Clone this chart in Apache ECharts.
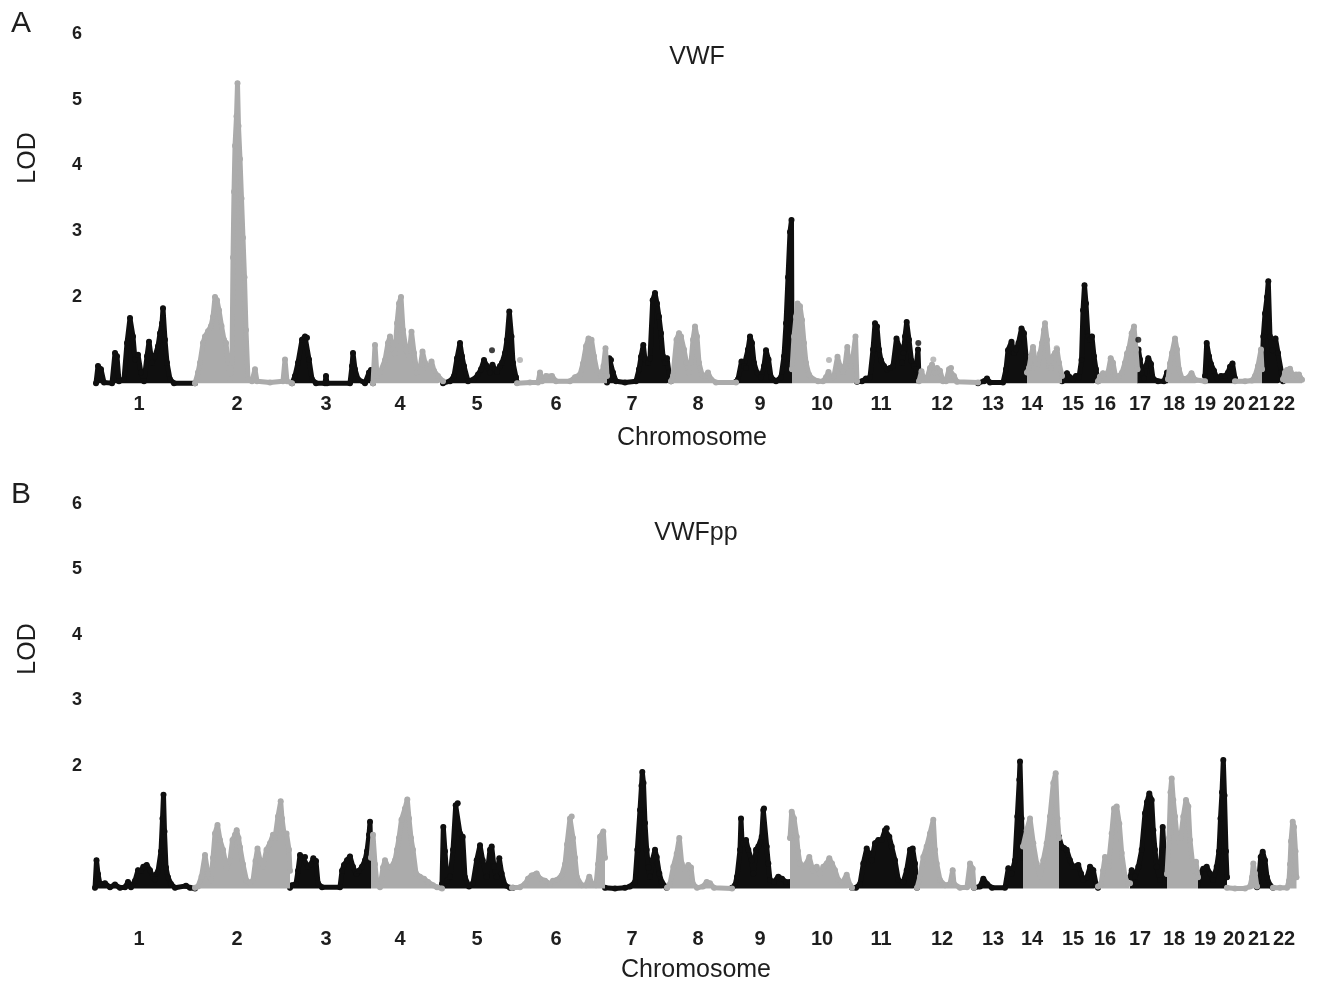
<!DOCTYPE html>
<html>
<head>
<meta charset="utf-8">
<script src="https://cdn.jsdelivr.net/npm/echarts/dist/echarts.min.js"></script>
<style>
html,body{margin:0;padding:0;background:#fff;}
#chart{width:1318px;height:985px;}
</style>
</head>
<body>
<div id="chart"></div>
<script>
// ---- tick labels / categories ----
const CHROM_NAMES = ['1','2','3','4','5','6','7','8','9','10','11','12','13','14','15','16','17','18','19','20','21','22'];
// chromosome label positions on the map axis (map units)
const LABEL_POS = [139,237,326,400,477,556,632,698,760,822,881,942,993,1032,1073,1105,1140,1174,1205,1234,1259,1284];
const LOD_TICKS = [2,3,4,5,6];
const BASE_A = 0.69;   // baseline level of panel A points on its LOD scale
const BASE_B = 0.13;   // baseline level of panel B points

// ---- Panel A: VWF, per chromosome [map position, LOD] ----
const VWF_1 = [[96,0.69],[98,0.95],[101,0.9],[104,0.7],[112,0.69],[115,1.15],[117,1.1],[119,0.72],[124,0.75],[127,1.3],[130,1.68],[133,1.4],[135,1.05],[138,1.12],[141,0.85],[144,0.72],[147,1.1],[149,1.32],[152,1.0],[155,1.1],[158,1.25],[160,1.45],[162,1.6],[163,1.83],[165,1.35],[167,1.0],[170,0.75],[174,0.69],[195,0.69]];
const VWF_2 = [[195,0.69],[198,0.85],[200,1.0],[203,1.3],[205,1.4],[208,1.48],[211,1.56],[213,1.7],[215,2.0],[217,1.95],[219,1.8],[221.5,1.56],[224,1.35],[226,1.3],[228,1.0],[230,0.75],[232,1.0],[233,2.6],[234,3.6],[235,4.3],[236.5,4.75],[237.5,5.25],[238.5,4.6],[240,4.1],[241.5,3.5],[243,2.9],[244.5,2.3],[246,1.5],[248,0.75],[252,0.72],[255,0.9],[257,0.72],[270,0.7],[283,0.72],[285,1.05],[287,0.72],[292,0.69]];
const VWF_3 = [[292,0.69],[295,0.8],[298,1.0],[302,1.35],[305,1.4],[307,1.38],[309,1.05],[312,0.75],[316,0.69],[325,0.69],[326,0.8],[327,0.69],[350,0.69],[352,0.95],[353,1.15],[355,0.9],[358,0.75],[365,0.69],[369,0.85],[371,0.89],[373,0.69]];
const VWF_4 = [[373,0.69],[375,1.27],[377,0.8],[380,0.85],[385,1.04],[388,1.3],[390,1.4],[393,1.2],[395,1.14],[397,1.6],[399,1.9],[401,2.0],[403,1.5],[406,1.2],[409,1.1],[411.5,1.47],[414,1.15],[417,0.85],[420,0.9],[422.5,1.17],[425,1.0],[428,0.9],[431.5,1.02],[434,0.88],[438,0.8],[443,0.72]];
const VWF_5 = [[443,0.69],[450,0.72],[454,0.8],[457,1.07],[460,1.3],[462,1.1],[464,0.95],[468,0.72],[474,0.75],[478,0.82],[481,0.9],[484,1.04],[487,0.95],[490,0.85],[492.5,0.97],[495,0.9],[497,0.86],[500,0.95],[502,1.0],[505,1.15],[507,1.35],[509.3,1.78],[511.5,1.4],[513,1.0],[516,0.78],[517,0.7]];
const VWF_6 = [[517,0.69],[530,0.7],[538,0.7],[540,0.85],[542,0.72],[546,0.8],[552,0.8],[556,0.72],[570,0.72],[575,0.78],[580,0.82],[583,0.99],[586,1.25],[588.5,1.37],[591.5,1.35],[594,1.1],[597,0.87],[601,0.8],[603.5,0.95],[605.5,1.22],[607,0.8]];
const VWF_7 = [[607,0.7],[609.3,1.07],[611,1.04],[613,0.85],[616,0.72],[625,0.7],[636,0.72],[639,0.9],[641,1.09],[643.3,1.27],[645,1.05],[648,1.0],[650,1.07],[652.7,1.95],[655,2.06],[657,1.9],[659,1.7],[661,1.45],[663,1.1],[665,1.0],[667,1.07],[669,0.85],[671,0.72]];
const VWF_8 = [[671,0.72],[673,0.8],[676.5,1.35],[679,1.45],[681,1.4],[684,1.2],[686.5,1.0],[689,0.85],[691,1.0],[693,1.35],[695,1.55],[697,1.4],[699,1.0],[702,0.82],[705,0.8],[708,0.85],[711,0.75],[716,0.7],[736,0.7]];
const VWF_9 = [[736,0.71],[738,0.75],[741.5,1.02],[744,0.95],[746,0.92],[748,1.2],[750,1.4],[752,1.3],[754,1.0],[757,0.85],[761,0.78],[764,0.95],[766,1.19],[768.5,1.05],[771,0.78],[776,0.72],[781,0.78],[784,1.1],[786,1.6],[788,2.3],[790,2.99],[791.5,3.17],[792,1.0]];
const VWF_10 = [[792,0.9],[794,1.4],[796,1.7],[797.5,1.9],[800,1.86],[802,1.65],[804,1.3],[806,1.0],[809,0.82],[813,0.75],[818,0.72],[823,0.72],[826,0.78],[828.5,0.86],[831,0.76],[834,0.8],[837.5,1.09],[840,0.95],[843,0.86],[845,0.95],[847.3,1.24],[849,0.9],[851,0.95],[853,1.1],[855.5,1.4],[857,0.72]];
const VWF_11 = [[857,0.71],[862,0.72],[866,0.76],[870,0.78],[873,1.2],[875,1.6],[877,1.55],[879,1.2],[881,1.04],[884,0.95],[887,0.9],[890,0.92],[893,0.95],[896.5,1.37],[899,1.25],[902,1.0],[903.5,1.15],[905,1.4],[906.7,1.62],[909,1.35],[911.5,1.03],[914,0.95],[916,0.9],[918,1.2],[919,0.75]];
const VWF_12 = [[919,0.72],[921.5,0.87],[924,0.75],[927,0.76],[930,0.92],[932,0.97],[935,0.85],[937,0.92],[940,0.88],[943,0.72],[946,0.72],[949,0.9],[951,0.92],[954,0.8],[957,0.71],[978,0.7]];
const VWF_13 = [[978,0.69],[984,0.72],[987,0.76],[990,0.7],[1003,0.7],[1006,0.9],[1008,1.19],[1011.5,1.32],[1014,1.15],[1016,1.2],[1018.5,1.3],[1021.5,1.52],[1024,1.45],[1026,1.1],[1027,0.8]];
const VWF_14 = [[1027,0.85],[1029,0.92],[1031,1.1],[1033,1.24],[1035,1.05],[1037,0.9],[1040,1.14],[1042,1.3],[1044,1.5],[1045,1.6],[1047,1.35],[1049,0.95],[1051,0.92],[1053,1.1],[1055,1.15],[1057,1.2],[1059,1.0],[1062,0.8]];
const VWF_15 = [[1062,0.72],[1064,0.8],[1067,0.84],[1070,0.78],[1073,0.75],[1076,0.8],[1079,0.78],[1081.5,1.04],[1083,1.8],[1084.5,2.18],[1086,1.9],[1088,1.4],[1090,1.35],[1092,1.4],[1094,1.1],[1096,0.9],[1098,0.72]];
const VWF_16 = [[1098,0.72],[1100,0.79],[1103,0.84],[1106,0.75],[1108,0.85],[1110.7,1.07],[1113,1.0],[1116,0.75],[1119,0.8],[1122,0.85],[1125,1.0],[1127,1.14],[1129,1.22],[1131.7,1.45],[1134,1.55],[1136,1.2],[1137.5,0.9]];
const VWF_17 = [[1137,0.9],[1138.5,1.2],[1140,1.05],[1142,0.85],[1144,0.76],[1146,0.95],[1148.3,1.07],[1151,0.98],[1153,0.76],[1158,0.72],[1164,0.72],[1167,0.85],[1168,0.75]];
const VWF_18 = [[1168,0.75],[1170,0.99],[1172,1.15],[1175,1.37],[1177,1.2],[1179,0.9],[1182,0.76],[1187,0.76],[1191.5,0.84],[1195,0.74],[1205,0.72]];
const VWF_19 = [[1205,0.8],[1206.7,1.3],[1209,1.1],[1211,0.98],[1214,0.88],[1217,0.76],[1221,0.8],[1225,0.8],[1228,0.85],[1230,0.94],[1232.5,0.99],[1235,0.76]];
const VWF_20 = [[1235,0.72],[1245,0.72],[1252,0.73],[1255,0.8],[1258,0.95],[1261,1.2],[1262,0.9]];
const VWF_21 = [[1262,0.85],[1263.3,1.4],[1265,1.75],[1267,2.0],[1268.3,2.24],[1270,1.4],[1272.5,1.19],[1275.5,1.37],[1278,1.15],[1281.5,0.85],[1283,0.72]];
const VWF_22 = [[1283,0.75],[1285,0.85],[1287,0.89],[1290,0.91],[1293,0.8],[1296,0.82],[1299,0.82],[1302,0.74]];
const VWF_DOTS_BLACK = [[492,1.19],[918.3,1.30],[1138.3,1.35]];
const VWF_DOTS_GRAY = [[520,1.04],[829,1.04],[933.3,1.05],[1056.7,1.22]];

// ---- Panel B: VWFpp, per chromosome [map position, LOD] ----
const PP_1 = [[95,0.14],[96.5,0.56],[98,0.35],[100,0.2],[105,0.21],[110,0.15],[115,0.19],[120,0.14],[125,0.15],[128,0.23],[131,0.15],[135,0.25],[138,0.41],[141,0.4],[143.3,0.46],[146.7,0.49],[150,0.41],[153,0.3],[155,0.27],[158,0.39],[161,0.7],[162.5,1.2],[163.5,1.56],[164.5,1.0],[166,0.45],[168,0.3],[171,0.2],[175,0.14],[186,0.17],[190,0.14],[195,0.13]];
const PP_2 = [[195,0.14],[198,0.16],[201.5,0.31],[205,0.64],[208,0.35],[211,0.25],[213,0.6],[215,0.97],[217.5,1.1],[220,0.87],[223,0.72],[226.5,0.45],[230,0.56],[232.5,0.87],[235,0.95],[236.7,1.02],[238.5,0.9],[240,0.76],[243,0.5],[246.5,0.25],[250,0.22],[253,0.25],[255.5,0.55],[257.5,0.74],[260,0.56],[263,0.46],[266.5,0.72],[270,0.82],[273,0.95],[275,0.9],[278,1.23],[280.7,1.46],[282,1.2],[284,0.97],[286.5,0.97],[289,0.72],[290,0.4]];
const PP_3 = [[290,0.14],[292,0.18],[296,0.2],[298,0.4],[300,0.64],[303,0.6],[305,0.61],[308,0.46],[311,0.5],[313.3,0.59],[316,0.55],[318,0.21],[322,0.15],[340,0.15],[342,0.4],[344,0.49],[347,0.56],[350,0.62],[353,0.46],[356.5,0.35],[359,0.4],[362,0.46],[365,0.56],[367,0.7],[369,0.95],[370,1.15],[371,0.5]];
const PP_4 = [[371,0.6],[373,0.95],[375,0.5],[377,0.2],[380,0.15],[383,0.45],[385,0.56],[388,0.46],[391,0.45],[393,0.46],[395,0.56],[397,0.72],[399,0.9],[401.5,1.18],[405,1.35],[407.3,1.49],[409,1.2],[411,0.9],[413,0.72],[416,0.36],[420,0.31],[424,0.28],[428,0.23],[433,0.18],[437,0.15],[442,0.13]];
const PP_5 = [[442,0.2],[443.3,1.07],[445,0.7],[447,0.25],[450,0.31],[453,0.72],[455.7,1.4],[457.7,1.43],[460,0.97],[462.7,0.92],[465,0.3],[469,0.16],[473,0.21],[476.7,0.56],[480,0.79],[482.7,0.56],[486.7,0.31],[490,0.72],[491.7,0.77],[494,0.46],[496.7,0.31],[499.3,0.59],[501.7,0.36],[505,0.18],[510,0.14],[513,0.14]];
const PP_6 = [[512,0.14],[520,0.15],[525,0.2],[528,0.28],[531.7,0.33],[536.7,0.36],[540,0.28],[545,0.25],[550,0.2],[553,0.25],[556.7,0.26],[561.7,0.33],[565,0.5],[567,0.8],[570,1.2],[571.7,1.23],[573,0.9],[575,0.6],[577,0.3],[581.7,0.18],[586,0.18],[589.3,0.31],[592,0.2],[596,0.18],[598,0.5],[600,0.92],[603.3,1.0],[605,0.6]];
const PP_7 = [[605,0.14],[615,0.13],[625,0.14],[630,0.16],[635,0.23],[637.3,0.72],[640,1.33],[641.5,1.7],[642.3,1.91],[643.5,1.74],[645,1.13],[646.7,0.72],[648.5,0.45],[650,0.31],[652.3,0.56],[655,0.72],[656.7,0.61],[659.3,0.36],[661.7,0.23],[666.7,0.14]];
const PP_8 = [[667,0.14],[670,0.2],[673.3,0.46],[676.7,0.66],[679.3,0.9],[681.7,0.51],[685,0.41],[688.3,0.49],[691,0.45],[693,0.2],[697,0.14],[703,0.16],[706.7,0.23],[710,0.21],[714,0.14],[732,0.13]];
const PP_9 = [[732,0.14],[735,0.18],[737,0.31],[740,0.72],[741,1.2],[742,0.85],[743.3,0.82],[746,0.87],[748.3,0.72],[751.7,0.56],[753.3,0.36],[756,0.72],[758.3,0.77],[761.7,0.92],[763.3,1.33],[764,1.35],[766.7,0.77],[768.3,0.51],[770,0.26],[774,0.23],[778.3,0.31],[782,0.28],[786,0.23],[790,0.23]];
const PP_10 = [[790,0.9],[791.7,1.3],[794,1.2],[796.7,0.92],[798,0.7],[800,0.51],[804,0.46],[806,0.5],[809.3,0.61],[812.7,0.41],[816.7,0.46],[820,0.36],[823.3,0.46],[826.7,0.51],[829.3,0.59],[832,0.51],[835,0.41],[838.3,0.26],[842,0.21],[846.7,0.34],[850,0.18],[852,0.14]];
const PP_11 = [[852,0.14],[856,0.14],[860,0.2],[863.3,0.51],[866.7,0.74],[868.5,0.67],[871.7,0.56],[875,0.82],[878.3,0.87],[881.7,0.87],[885,1.02],[886.7,1.05],[889.3,0.92],[891.7,0.77],[895,0.56],[898.3,0.26],[903.3,0.23],[906.7,0.41],[910,0.72],[912.7,0.74],[915,0.51],[917,0.14]];
const PP_12 = [[917,0.14],[920,0.31],[923.3,0.61],[926.7,0.77],[930,0.97],[933.3,1.18],[935,0.72],[936.7,0.51],[940,0.26],[945,0.18],[950,0.2],[952.7,0.41],[954,0.2],[960,0.14],[967,0.15],[970,0.51],[972.7,0.43],[974,0.14]];
const PP_13 = [[974,0.14],[980,0.16],[983.3,0.28],[987,0.2],[992,0.14],[1005,0.14],[1008.3,0.44],[1011.7,0.36],[1015,0.56],[1017.3,1.23],[1019.3,1.79],[1020,2.07],[1021.5,1.2],[1023,0.6]];
const PP_14 = [[1023,0.77],[1026.7,1.02],[1030,1.2],[1033.3,0.82],[1036.7,0.51],[1040,0.31],[1043.3,0.56],[1046.7,0.82],[1050,1.23],[1053.3,1.74],[1055.7,1.89],[1057.5,1.2],[1059,0.9]];
const PP_15 = [[1059,0.92],[1061.7,0.77],[1064,0.75],[1066.7,0.72],[1070,0.56],[1073,0.46],[1075,0.46],[1078.3,0.49],[1081,0.36],[1083.3,0.26],[1087,0.3],[1090,0.46],[1093.3,0.41],[1096,0.2],[1098,0.14]];
const PP_16 = [[1098,0.16],[1101,0.2],[1103,0.4],[1105,0.61],[1108.3,0.46],[1111.7,0.97],[1114,1.35],[1116.7,1.38],[1119.3,1.12],[1121.7,0.67],[1125,0.31],[1128,0.2],[1130,0.21]];
const PP_17 = [[1130,0.3],[1131.7,0.41],[1135,0.31],[1138.3,0.46],[1141.7,0.72],[1145,1.28],[1147,1.45],[1149.3,1.58],[1151.7,1.48],[1153.3,1.02],[1155,0.72],[1156.7,0.46],[1160,0.26],[1162.7,1.07],[1164,0.72],[1165.5,0.4],[1167,0.3]];
const PP_18 = [[1167,0.35],[1169,0.9],[1170.5,1.6],[1171.7,1.81],[1173.3,1.48],[1175,1.23],[1176.7,0.97],[1180,0.82],[1183.3,1.23],[1186,1.48],[1188.3,1.38],[1190,0.87],[1193.3,0.41],[1196,0.54],[1198,0.3]];
const PP_19 = [[1198,0.2],[1200,0.36],[1203.3,0.43],[1206.7,0.46],[1210,0.36],[1213,0.26],[1216.7,0.46],[1219,0.7],[1220.5,1.2],[1222,1.6],[1223.3,2.09],[1224.5,1.55],[1226,0.7],[1227,0.3]];
const PP_20 = [[1227,0.14],[1235,0.13],[1245,0.13],[1250,0.16],[1252,0.3],[1253.3,0.51],[1255,0.36],[1257,0.16]];
const PP_21 = [[1257,0.15],[1259,0.3],[1260.7,0.61],[1262.7,0.69],[1265,0.56],[1267,0.3],[1270,0.18],[1273,0.14]];
const PP_22 = [[1273,0.14],[1280,0.14],[1287,0.14],[1289,0.25],[1290,0.5],[1291,0.85],[1292.7,1.15],[1294,1.07],[1295.5,0.7],[1296.5,0.3]];

const VWF_CHROMS = [VWF_1,VWF_2,VWF_3,VWF_4,VWF_5,VWF_6,VWF_7,VWF_8,VWF_9,VWF_10,VWF_11,VWF_12,VWF_13,VWF_14,VWF_15,VWF_16,VWF_17,VWF_18,VWF_19,VWF_20,VWF_21,VWF_22];
const PP_CHROMS = [PP_1,PP_2,PP_3,PP_4,PP_5,PP_6,PP_7,PP_8,PP_9,PP_10,PP_11,PP_12,PP_13,PP_14,PP_15,PP_16,PP_17,PP_18,PP_19,PP_20,PP_21,PP_22];

// ---- styling ----
const BLACK = '#0f0f0f';
const GRAY = '#ababab';
const TXT = '#1e1e1e';
const FONT = '"Liberation Sans", Arial, Helvetica, sans-serif';

function chromSeries(chroms, idx, base) {
  return chroms.map((d, i) => {
    const c = i % 2 === 0 ? BLACK : GRAY;
    return {
      type: 'line', xAxisIndex: idx, yAxisIndex: idx, data: d,
      symbol: 'circle', symbolSize: 6, showSymbol: true, showAllSymbol: true,
      lineStyle: { width: 5, color: c, join: 'round', cap: 'round' },
      itemStyle: { color: c },
      areaStyle: { color: c, opacity: 1, origin: base },
      silent: true, animation: false, z: 2 + (i % 2)
    };
  });
}
function dotSeries(data, idx, c) {
  return { type: 'scatter', xAxisIndex: idx, yAxisIndex: idx, data: data,
    symbol: 'circle', symbolSize: 6, itemStyle: { color: c }, silent: true, animation: false, z: 4 };
}
function xAxisCfg(idx, margin) {
  return {
    type: 'value', gridIndex: idx, min: 90, max: 1310,
    axisLine: { show: false }, axisTick: { show: false }, splitLine: { show: false },
    axisLabel: {
      customValues: LABEL_POS, margin: margin,
      formatter: function (v) { const i = LABEL_POS.indexOf(v); return i >= 0 ? CHROM_NAMES[i] : ''; },
      fontFamily: FONT, fontSize: 20, fontWeight: 'bold', color: TXT
    }
  };
}
function yAxisCfg(idx) {
  return {
    type: 'value', gridIndex: idx, min: 0, max: 6, interval: 1,
    axisLine: { show: false }, axisTick: { show: false }, splitLine: { show: false },
    axisLabel: {
      margin: 8,
      formatter: function (v) { return LOD_TICKS.indexOf(v) >= 0 ? String(v) : ''; },
      fontFamily: FONT, fontSize: 18, fontWeight: 'bold', color: TXT
    }
  };
}
function txt(text, x, y, size, rot) {
  return { type: 'text', x: x, y: y, rotation: rot || 0, silent: true,
    style: { text: text, fill: TXT, font: size + 'px ' + FONT, align: 'center', verticalAlign: 'middle' } };
}

const chart = echarts.init(document.getElementById('chart'), null, { renderer: 'canvas' });
chart.setOption({
  animation: false,
  backgroundColor: '#ffffff',
  grid: [
    { left: 90, width: 1220, top: 34, height: 394.5 },
    { left: 90, width: 1220, top: 504, height: 393 }
  ],
  xAxis: [xAxisCfg(0, -34), xAxisCfg(1, 32)],
  yAxis: [yAxisCfg(0), yAxisCfg(1)],
  graphic: [
    txt('A', 21, 24, 30),
    txt('B', 21, 495, 30),
    txt('VWF', 697, 57, 25),
    txt('VWFpp', 696, 533, 25),
    txt('LOD', 28, 158, 25, Math.PI / 2),
    txt('LOD', 28, 649, 25, Math.PI / 2),
    txt('Chromosome', 692, 438, 25),
    txt('Chromosome', 696, 970, 25)
  ],
  series: [].concat(
    chromSeries(VWF_CHROMS, 0, BASE_A),
    chromSeries(PP_CHROMS, 1, BASE_B),
    [dotSeries(VWF_DOTS_BLACK, 0, BLACK), dotSeries(VWF_DOTS_GRAY, 0, GRAY)]
  )
});
</script>
</body>
</html>
